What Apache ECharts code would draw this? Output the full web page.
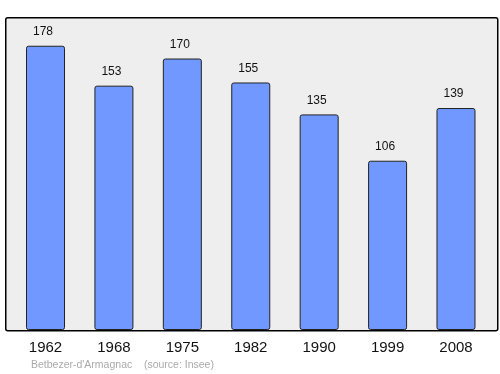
<!DOCTYPE html>
<html><head><meta charset="utf-8">
<script src="https://cdn.jsdelivr.net/npm/echarts@6/dist/echarts.min.js"></script>
<style>html,body{margin:0;padding:0;background:#fff}#c{width:500px;height:374px}</style>
</head><body><div id="c"></div>
<script>
const categories = ['1962','1968','1975','1982','1990','1999','2008'];
const values = [178,153,170,155,135,106,139];
const footer = "Betbezer-d'Armagnac    (source: Insee)";
const chart = echarts.init(document.getElementById('c'), null, {renderer:'canvas'});
chart.setOption({
  animation:false,
  graphic:[
    {type:'rect', left:5, top:17, shape:{x:0,y:0,width:492,height:313,r:2}, style:{fill:'#eeeeee',stroke:'#000',lineWidth:1.5}, z:-10},
    {type:'text', left:31, top:360, style:{text:footer, fill:'#aaaaaa', font:'10.5px "Liberation Sans", Arial, sans-serif'}}
  ],
  grid:{left:11.3, right:9.8, top:17, bottom:44},
  xAxis:{type:'category', data:categories, axisLine:{show:false}, axisTick:{show:false},
    axisLabel:{color:'#111', fontSize:15, margin:10, fontFamily:'"Liberation Sans", Arial, sans-serif'}},
  yAxis:{type:'value', min:0, max:196, show:false, splitLine:{show:false}},
  series:[{type:'bar', data:values, barWidth:39,
    itemStyle:{color:'#7098ff', borderColor:'#222', borderWidth:1, borderRadius:2},
    label:{show:true, position:'top', distance:8, offset:[-2.5,0], color:'#111', fontSize:12, fontFamily:'"Liberation Sans", Arial, sans-serif'}}]
});
</script></body></html>
